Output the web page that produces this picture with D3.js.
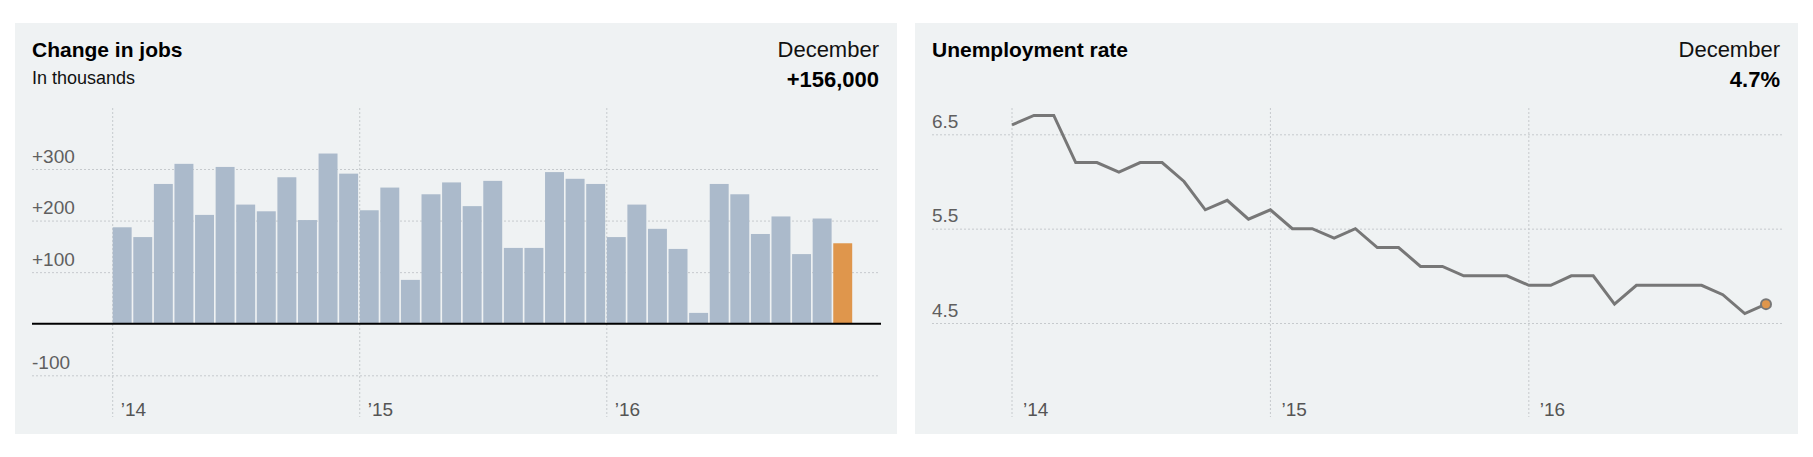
<!DOCTYPE html>
<html>
<head>
<meta charset="utf-8">
<script src="https://cdn.jsdelivr.net/npm/d3@7"></script>
<style>
  body { margin: 0; background: #fff; }
  svg { display: block; font-family: "Liberation Sans", Arial, sans-serif; }
  .grid line { stroke: #c6cacd; stroke-dasharray: 2,2; stroke-width: 1; }
  .tick text { fill: #5f5f5f; font-size: 19px; }
</style>
</head>
<body>
<div id="chart"></div>
<script>
var svgWidth = 1813;
var svgHeight = 457;

// months Jan 2014 .. Dec 2016
var months = d3.timeMonths(new Date(2014, 0, 1), new Date(2017, 0, 1));

// change in jobs, thousands
var jobs = [187, 168, 271, 310, 211, 304, 231, 218, 284, 201, 330, 291,
            220, 264, 85, 251, 274, 228, 277, 147, 147, 294, 281, 271,
            168, 231, 184, 145, 21, 271, 251, 174, 208, 135, 204, 156];

// unemployment rate, percent
var rate = [6.6, 6.7, 6.7, 6.2, 6.2, 6.1, 6.2, 6.2, 6.0, 5.7, 5.8, 5.6,
            5.7, 5.5, 5.5, 5.4, 5.5, 5.3, 5.3, 5.1, 5.1, 5.0, 5.0, 5.0,
            4.9, 4.9, 5.0, 5.0, 4.7, 4.9, 4.9, 4.9, 4.9, 4.8, 4.6, 4.7];

var jobTicks = [-100, 100, 200, 300];
var rateTicks = [4.5, 5.5, 6.5];
var yearTicks = [new Date(2014, 0, 1), new Date(2015, 0, 1), new Date(2016, 0, 1)];
var yearFormat = d3.timeFormat("\u2019%y");

var svg = d3.select("#chart")
  .append("svg")
  .attr("width", svgWidth)
  .attr("height", svgHeight);

// panel backgrounds
svg.append("rect").attr("x", 15).attr("y", 23).attr("width", 882).attr("height", 411).attr("fill", "#eff2f3");
svg.append("rect").attr("x", 915).attr("y", 23).attr("width", 883).attr("height", 411).attr("fill", "#eff2f3");

function header(g, left, right, title, sub, value) {
  g.append("text").attr("x", left).attr("y", 57)
    .attr("font-size", 21).attr("font-weight", "bold").attr("fill", "#000").text(title);
  if (sub) {
    g.append("text").attr("x", left).attr("y", 84)
      .attr("font-size", 18).attr("fill", "#111").text(sub);
  }
  g.append("text").attr("x", right).attr("y", 57).attr("text-anchor", "end")
    .attr("font-size", 22).attr("fill", "#111").text("December");
  g.append("text").attr("x", right).attr("y", 87).attr("text-anchor", "end")
    .attr("font-size", 22).attr("font-weight", "bold").attr("fill", "#000").text(value);
}

// ---------- Change in jobs ----------
var left = svg.append("g");
header(left, 32, 879, "Change in jobs", "In thousands", "+156,000");

var xBand = d3.scaleBand()
  .domain(months)
  .range([112.7, 852.2])
  .paddingInner(0.08)
  .paddingOuter(0);

var yJobs = d3.scaleLinear()
  .domain([-100, 300])
  .range([375.3, 169]);

// vertical year lines
left.append("g").attr("class", "grid")
  .selectAll("line")
  .data(yearTicks)
  .enter()
  .append("line")
  .attr("x1", d => xBand(d)).attr("x2", d => xBand(d))
  .attr("y1", 108).attr("y2", 417);

var leftAxis = d3.axisRight(yJobs)
  .tickValues(jobTicks)
  .tickSize(847)
  .tickFormat(d => (d > 0 ? "+" : "") + d);

left.append("g")
  .attr("class", "grid")
  .attr("transform", "translate(32,0)")
  .call(leftAxis)
  .call(g => g.select(".domain").remove())
  .call(g => g.selectAll(".tick text").attr("x", 0).attr("dy", -7).attr("text-anchor", "start"));

left.selectAll("rect.bar")
  .data(jobs)
  .enter()
  .append("rect")
  .attr("class", "bar")
  .attr("x", (d, i) => xBand(months[i]))
  .attr("y", d => yJobs(d))
  .attr("width", xBand.bandwidth())
  .attr("height", d => yJobs(0) - yJobs(d))
  .attr("fill", (d, i) => i === jobs.length - 1 ? "#df964c" : "#abbacb");

left.append("line")
  .attr("x1", 32).attr("x2", 881)
  .attr("y1", yJobs(0)).attr("y2", yJobs(0))
  .attr("stroke", "#000").attr("stroke-width", 2.2);

left.selectAll("text.year")
  .data(yearTicks)
  .enter()
  .append("text")
  .attr("class", "year")
  .attr("x", d => xBand(d) + 8)
  .attr("y", 416)
  .attr("font-size", 19)
  .attr("fill", "#555")
  .text(yearFormat);

// ---------- Unemployment rate ----------
var right = svg.append("g");
header(right, 932, 1780, "Unemployment rate", null, "4.7%");

var xTime = d3.scaleTime()
  .domain([new Date(2014, 0, 1), new Date(2016, 11, 1)])
  .range([1012, 1766]);

var yRate = d3.scaleLinear()
  .domain([4.5, 6.5])
  .range([323, 134.3]);

right.append("g").attr("class", "grid")
  .selectAll("line")
  .data(yearTicks)
  .enter()
  .append("line")
  .attr("x1", d => xTime(d)).attr("x2", d => xTime(d))
  .attr("y1", 108).attr("y2", 417);

var rateAxis = d3.axisRight(yRate)
  .tickValues(rateTicks)
  .tickSize(850)
  .tickFormat(d3.format(".1f"));

right.append("g")
  .attr("class", "grid")
  .attr("transform", "translate(932,0)")
  .call(rateAxis)
  .call(g => g.select(".domain").remove())
  .call(g => g.selectAll(".tick text").attr("x", 0).attr("dy", -7).attr("text-anchor", "start"));

var line = d3.line()
  .x((d, i) => xTime(months[i]))
  .y(d => yRate(d));

right.append("path")
  .datum(rate)
  .attr("d", line)
  .attr("fill", "none")
  .attr("stroke", "#777")
  .attr("stroke-width", 3)
  .attr("stroke-linejoin", "miter");

right.append("circle")
  .attr("cx", xTime(months[rate.length - 1]))
  .attr("cy", yRate(rate[rate.length - 1]))
  .attr("r", 5)
  .attr("fill", "#df964c")
  .attr("stroke", "#777")
  .attr("stroke-width", 2);

right.selectAll("text.year")
  .data(yearTicks)
  .enter()
  .append("text")
  .attr("class", "year")
  .attr("x", d => xTime(d) + 11)
  .attr("y", 416)
  .attr("font-size", 19)
  .attr("fill", "#555")
  .text(yearFormat);
</script>
</body>
</html>
